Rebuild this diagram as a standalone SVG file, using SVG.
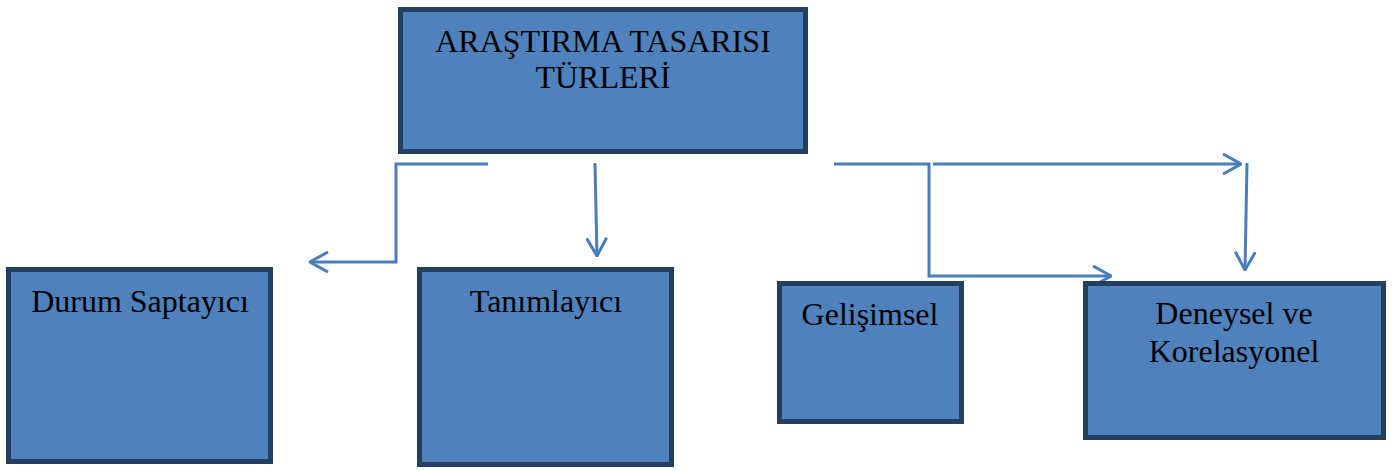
<svg xmlns="http://www.w3.org/2000/svg" width="1395" height="471" viewBox="0 0 1395 471">
<style>
.box{fill:#4F81BD;stroke:#243F60;stroke-width:5}
.lbl{font-family:"Liberation Serif","Times New Roman",serif;font-size:32px;fill:#000;text-anchor:middle}
.con{fill:none;stroke:#4A7EBB;stroke-width:3}
</style>
<defs>
<marker id="ah" viewBox="0 0 20 22" refX="19" refY="11" markerWidth="20" markerHeight="22" markerUnits="userSpaceOnUse" orient="auto">
<path d="M1,1 L19,11 L1,21" fill="none" stroke="#4A7EBB" stroke-width="3"/>
</marker>
</defs>
<rect width="1395" height="471" fill="#fff"/>
<g id="connectors">
<polyline class="con" points="488,164 396,164 396,262 310,262" marker-end="url(#ah)"/>
<line class="con" x1="595" y1="163" x2="597" y2="256" marker-end="url(#ah)"/>
<polyline class="con" points="834,164 929,164 929,276 1111,276" marker-end="url(#ah)"/>
<line class="con" x1="933" y1="164" x2="1241" y2="164" marker-end="url(#ah)"/>
<line class="con" x1="1247" y1="163" x2="1245" y2="270" marker-end="url(#ah)"/>
</g>
<g id="node-top">
<rect class="box" x="400.5" y="9.5" width="405" height="142"/>
<text class="lbl" x="603" y="52">ARAŞTIRMA TASARISI</text>
<text class="lbl" x="603" y="88">TÜRLERİ</text>
</g>
<g id="node-durum">
<rect class="box" x="8.5" y="269.5" width="262" height="192"/>
<text class="lbl" x="140" y="312">Durum Saptayıcı</text>
</g>
<g id="node-tanim">
<rect class="box" x="419.5" y="269.5" width="252" height="195"/>
<text class="lbl" x="546" y="312">Tanımlayıcı</text>
</g>
<g id="node-gelisim">
<rect class="box" x="779.5" y="283.5" width="182" height="138"/>
<text class="lbl" x="870" y="325">Gelişimsel</text>
</g>
<g id="node-deney">
<rect class="box" x="1085.5" y="283.5" width="298" height="154"/>
<text class="lbl" x="1234" y="324">Deneysel ve</text>
<text class="lbl" x="1234" y="362">Korelasyonel</text>
</g>
</svg>
